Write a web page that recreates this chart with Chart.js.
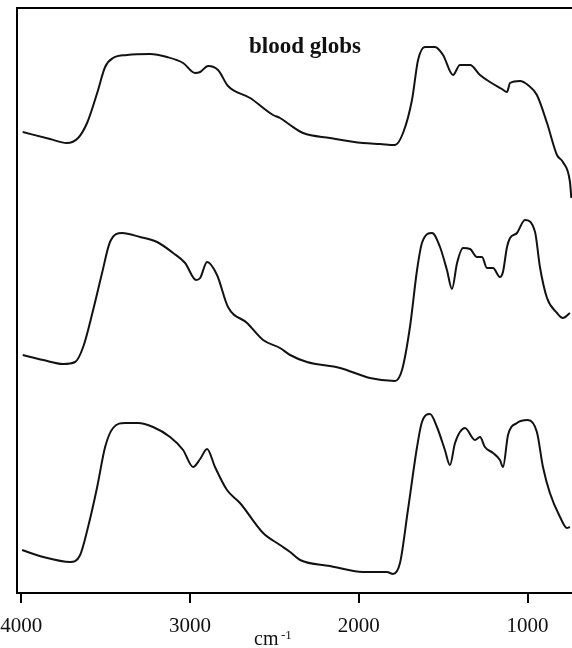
<!DOCTYPE html>
<html>
<head>
<meta charset="utf-8">
<script src="https://cdn.jsdelivr.net/npm/chart.js@4.4.0/dist/chart.umd.min.js"></script>
<style>
  html, body { margin: 0; padding: 0; background: #ffffff; }
  canvas { display: block; }
</style>
</head>
<body>
<canvas id="c" width="572" height="648"></canvas>
<script>
// ---- data (wavenumber in cm-1, relative absorbance with vertical offsets) ----
const xTickValues = [4000, 3000, 2000, 1000];
const titleText = 'blood globs';
const axisTitleMain = 'cm';
const axisTitleSup = '-1';

const topWn  = [3991,3829,3730,3663,3610,3550,3503,3456,3373,3237,3136,3041,2970,2940,2893,2834,2775,2644,2508,2467,2407,2330,2171,1975,1874,1786,1738,1685,1649,1608,1549,1501,1442,1401,1341,1282,1223,1152,1122,1104,1045,998,945,885,826,791,749,741];
const topAbs = [461,454,450,455,470,500,526,535,538,539,536,530,520,521,527,523,507,495,478,475,468,460,455,450,449,448,460,493,533,546,546,538,518,528,528,518,511,504,501,510,512,508,498,470,438,431,411,395];

const midWn  = [3991,3870,3752,3681,3633,3574,3521,3474,3402,3296,3195,3100,3029,2964,2940,2899,2840,2775,2662,2567,2467,2407,2307,2111,1934,1786,1744,1697,1655,1626,1566,1519,1478,1448,1418,1383,1341,1300,1270,1241,1205,1164,1146,1122,1104,1063,1016,956,927,885,826,791,749];
const midAbs = [238,233,229,231,246,283,320,351,360,356,351,340,330,313,315,331,318,286,270,253,245,238,231,225,215,212,223,266,323,350,360,346,323,304,330,345,344,336,336,325,325,316,321,346,355,360,373,361,326,295,280,275,280];

const botWn  = [3995,3870,3710,3651,3604,3550,3503,3456,3385,3308,3219,3118,3041,2982,2940,2899,2852,2781,2704,2567,2467,2407,2348,2171,1975,1833,1797,1756,1709,1655,1626,1578,1537,1490,1460,1430,1371,1312,1282,1253,1205,1164,1146,1116,1063,998,945,909,868,808,767,749];
const botAbs = [43,36,31,38,66,106,146,165,170,170,166,156,143,126,134,144,126,103,90,60,48,41,33,27,21,21,19,30,83,146,171,179,166,143,128,150,165,153,156,146,140,133,126,158,170,173,161,126,100,76,65,66];

const toPts = (xs, ys) => xs.map((x, i) => ({ x: x, y: ys[i] }));

const serif = '"Liberation Serif", "Times New Roman", "DejaVu Serif", serif';

const lineStyle = {
  borderColor: '#121212',
  borderWidth: 2,
  pointRadius: 0,
  fill: false,
  cubicInterpolationMode: 'monotone'
};

const extraText = {
  id: 'extraText',
  afterDraw(chart) {
    const ctx = chart.ctx;
    const a = chart.chartArea;
    ctx.save();
    // top frame line
    ctx.strokeStyle = '#000';
    ctx.lineWidth = 2;
    ctx.beginPath();
    ctx.moveTo(a.left - 1, a.top);
    ctx.lineTo(a.right, a.top);
    ctx.stroke();
    // in-plot title
    ctx.fillStyle = '#111';
    ctx.textAlign = 'center';
    ctx.textBaseline = 'alphabetic';
    ctx.font = 'bold 23px ' + serif;
    ctx.fillText(titleText, 305, 53);
    // axis title with superscript
    ctx.textAlign = 'left';
    ctx.font = '20px ' + serif;
    ctx.fillText(axisTitleMain, 254, 645);
    ctx.font = '13px ' + serif;
    ctx.fillText(axisTitleSup, 281, 639);
    ctx.restore();
  }
};

new Chart(document.getElementById('c'), {
  type: 'line',
  data: {
    datasets: [
      Object.assign({ label: 'top', data: toPts(topWn, topAbs) }, lineStyle),
      Object.assign({ label: 'middle', data: toPts(midWn, midAbs) }, lineStyle),
      Object.assign({ label: 'bottom', data: toPts(botWn, botAbs) }, lineStyle)
    ]
  },
  options: {
    responsive: false,
    animation: false,
    layout: { autoPadding: false, padding: { left: 17, right: 0, top: 8, bottom: 0 } },
    plugins: { legend: { display: false }, tooltip: { enabled: false }, title: { display: false } },
    scales: {
      x: {
        type: 'linear',
        reverse: true,
        min: 737,
        max: 4025,
        afterBuildTicks(scale) { scale.ticks = xTickValues.map(v => ({ value: v })); },
        afterFit(scale) { scale.height = 55; scale.paddingLeft = 0; scale.paddingRight = 0; },
        ticks: {
          color: '#111',
          font: { family: serif, size: 21, lineHeight: 1.0 },
          padding: 13,
          maxRotation: 0,
          autoSkip: false,
          callback: v => String(v)
        },
        grid: { display: true, drawOnChartArea: false, drawTicks: true, tickLength: 10, color: '#000', lineWidth: 2 },
        border: { display: true, color: '#000', width: 2 }
      },
      y: {
        type: 'linear',
        min: 0,
        max: 585,
        afterFit(scale) { scale.width = 0; scale.paddingTop = 0; scale.paddingBottom = 0; },
        ticks: { display: false },
        grid: { display: false, drawTicks: false },
        border: { display: true, color: '#000', width: 2 }
      }
    }
  },
  plugins: [extraText]
});
</script>
</body>
</html>
